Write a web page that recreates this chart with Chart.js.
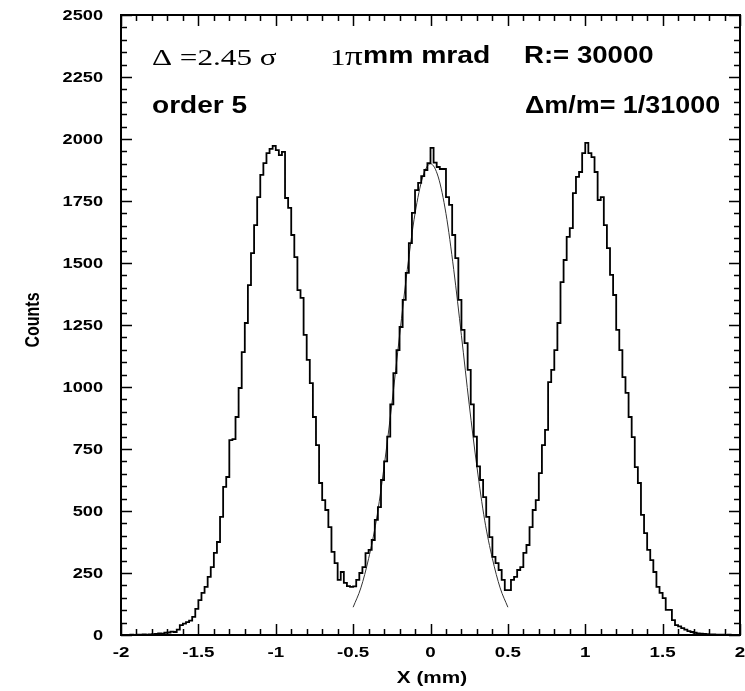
<!DOCTYPE html>
<html lang="en">
<head>
    <meta charset="UTF-8">
    <title>Counts vs X (mm)</title>
    <script src="https://cdn.jsdelivr.net/npm/chart.js@4"></script>
    <style>
        body {
            margin: 0;
            background-color: #fff;
        }
        canvas {
            display: block;
        }
    </style>
</head>
<body>
    <canvas id="histChart" width="745" height="691"></canvas>
    <script>
        // histogram binning (left edge of first bin, bin width in mm)
        const binStart = -2;
        const binWidth = 0.02;

        // counts per bin, from x = -2 to x = 2
        const counts = [
            0, 0, 0, 1, 0, 1, 1, 2, 1, 2,
            3, 4, 6, 5, 9, 10, 14, 12, 22, 40,
            46, 52, 58, 73, 105, 141, 170, 194, 234, 274,
            331, 375, 476, 597, 637, 786, 790, 879, 996, 1141,
            1258, 1411, 1540, 1653, 1766, 1855, 1903, 1943, 1960, 1972,
            1955, 1935, 1948, 1762, 1722, 1613, 1524, 1391, 1359, 1210,
            1109, 1016, 879, 766, 613, 544, 504, 435, 335, 290,
            222, 254, 210, 197, 194, 196, 222, 250, 274, 330,
            343, 383, 464, 516, 625, 700, 800, 930, 1056, 1149,
            1242, 1351, 1460, 1580, 1702, 1794, 1823, 1850, 1875, 1903,
            1964, 1905, 1887, 1879, 1879, 1766, 1734, 1613, 1520, 1351,
            1230, 1177, 1069, 930, 800, 680, 625, 556, 476, 395,
            315, 290, 262, 222, 181, 181, 222, 234, 262, 274,
            331, 363, 435, 504, 544, 653, 766, 827, 1020, 1069,
            1149, 1258, 1423, 1512, 1605, 1641, 1782, 1847, 1867, 1943,
            1984, 1943, 1927, 1867, 1754, 1766, 1653, 1560, 1452, 1371,
            1230, 1149, 1040, 976, 879, 798, 677, 613, 484, 411,
            343, 302, 254, 194, 170, 149, 101, 101, 60, 40,
            35, 28, 22, 16, 12, 9, 6, 5, 4, 3,
            2, 2, 1, 1, 1, 0, 1, 0, 0, 0
        ];

        // fitted curve over the central peak
        const fitX = [-0.5, -0.45, -0.4, -0.35, -0.3, -0.25, -0.2, -0.15, -0.1, -0.05, 0,
                      0.05, 0.1, 0.15, 0.2, 0.25, 0.3, 0.35, 0.4, 0.45, 0.5];
        const fitY = [112, 190, 308, 463, 678, 930, 1207, 1474, 1699, 1847, 1900,
                      1847, 1699, 1474, 1207, 930, 678, 463, 308, 190, 112];

        // axis ticks
        const xTickValues = [-2, -1.5, -1, -0.5, 0, 0.5, 1, 1.5, 2];
        const xTickLabels = ['-2', '-1.5', '-1', '-0.5', '0', '0.5', '1', '1.5', '2'];
        const yTickValues = [0, 250, 500, 750, 1000, 1250, 1500, 1750, 2000, 2250, 2500];
        const yTickLabels = ['0', '250', '500', '750', '1000', '1250', '1500', '1750', '2000', '2250', '2500'];

        const histData = counts.map((c, i) => ({ x: binStart + i * binWidth, y: c }));
        histData.push({ x: binStart + counts.length * binWidth, y: counts[counts.length - 1] });
        const fitData = fitX.map((v, i) => ({ x: v, y: fitY[i] }));

        // text with the horizontal stretch the original image has
        function drawText(ctx, text, x, y, font, sx, align, rotate) {
            ctx.save();
            ctx.translate(x, y);
            ctx.scale(sx, 1);
            if (rotate) ctx.rotate(-Math.PI / 2);
            ctx.font = font;
            ctx.textAlign = align;
            ctx.fillText(text, 0, 0);
            ctx.restore();
        }

        // frame with inward ticks on all four sides, labels and annotations
        const framePlugin = {
            id: 'frame',
            afterDatasetsDraw(chart) {
                const { ctx, chartArea: a, scales: { x, y } } = chart;
                ctx.save();
                ctx.strokeStyle = '#000';
                ctx.fillStyle = '#000';

                ctx.lineWidth = 1.5;
                ctx.beginPath();
                for (let i = 0; i <= 40; i++) {
                    const px = Math.round(x.getPixelForValue(-2 + i * 0.1)) + 0.5;
                    const len = i % 5 === 0 ? 11 : 6;
                    ctx.moveTo(px, a.bottom); ctx.lineTo(px, a.bottom - len);
                    ctx.moveTo(px, a.top); ctx.lineTo(px, a.top + len);
                }
                for (let i = 0; i <= 50; i++) {
                    const py = Math.round(y.getPixelForValue(i * 50)) + 0.5;
                    const len = i % 5 === 0 ? 11 : 6;
                    ctx.moveTo(a.left, py); ctx.lineTo(a.left + len, py);
                    ctx.moveTo(a.right, py); ctx.lineTo(a.right - len, py);
                }
                ctx.stroke();

                ctx.lineWidth = 2;
                ctx.strokeRect(a.left, a.top, a.right - a.left, a.bottom - a.top);

                // tick labels
                ctx.textBaseline = 'middle';
                xTickValues.forEach((v, i) => {
                    drawText(ctx, xTickLabels[i], x.getPixelForValue(v), a.bottom + 18,
                        'bold 15px "Liberation Sans", Arial, sans-serif', 1.25, 'center');
                });
                yTickValues.forEach((v, i) => {
                    drawText(ctx, yTickLabels[i], 103, y.getPixelForValue(v) + 1,
                        'bold 14px "Liberation Sans", Arial, sans-serif', 1.3, 'right');
                });

                // axis titles
                drawText(ctx, 'X (mm)', 432, 678,
                    'bold 17px "Liberation Sans", Arial, sans-serif', 1.22, 'center');
                drawText(ctx, 'Counts', 34, 320,
                    'bold 16px "Liberation Sans", Arial, sans-serif', 1.22, 'center', true);

                // annotations
                ctx.textBaseline = 'alphabetic';
                const serif = '24px "Liberation Serif", "Times New Roman", serif';
                const sans = 'bold 23px "Liberation Sans", Arial, sans-serif';
                drawText(ctx, '\u0394 =2.45 \u03c3', 152, 65, serif, 1.3, 'left');
                drawText(ctx, '1', 330, 65, serif, 1.3, 'left');
                drawText(ctx, '\u03c0', 345, 65, '27px "Liberation Serif", "Times New Roman", serif', 1.3, 'left');
                drawText(ctx, 'mm mrad', 363, 63, sans, 1.23, 'left');
                drawText(ctx, 'R:= 30000', 524, 63, sans, 1.2, 'left');
                drawText(ctx, 'order 5', 152, 113, sans, 1.22, 'left');
                drawText(ctx, '\u0394m/m= 1/31000', 525, 113, sans, 1.17, 'left');

                ctx.restore();
            }
        };

        const ctx = document.getElementById('histChart').getContext('2d');
        new Chart(ctx, {
            type: 'line',
            data: {
                datasets: [
                    {
                        label: 'Counts',
                        data: histData,
                        stepped: true,
                        borderColor: '#000',
                        borderWidth: 1.8,
                        pointRadius: 0,
                        fill: false
                    },
                    {
                        label: 'Fit',
                        data: fitData,
                        borderColor: '#333',
                        borderWidth: 1,
                        pointRadius: 0,
                        cubicInterpolationMode: 'monotone',
                        fill: false
                    }
                ]
            },
            options: {
                responsive: false,
                animation: false,
                devicePixelRatio: 1,
                layout: {
                    padding: { left: 121, top: 15, right: 5, bottom: 56 }
                },
                plugins: {
                    legend: { display: false },
                    tooltip: { enabled: false }
                },
                scales: {
                    x: { type: 'linear', min: -2, max: 2, display: false },
                    y: { type: 'linear', min: 0, max: 2500, display: false }
                }
            },
            plugins: [framePlugin]
        });
    </script>
</body>
</html>
